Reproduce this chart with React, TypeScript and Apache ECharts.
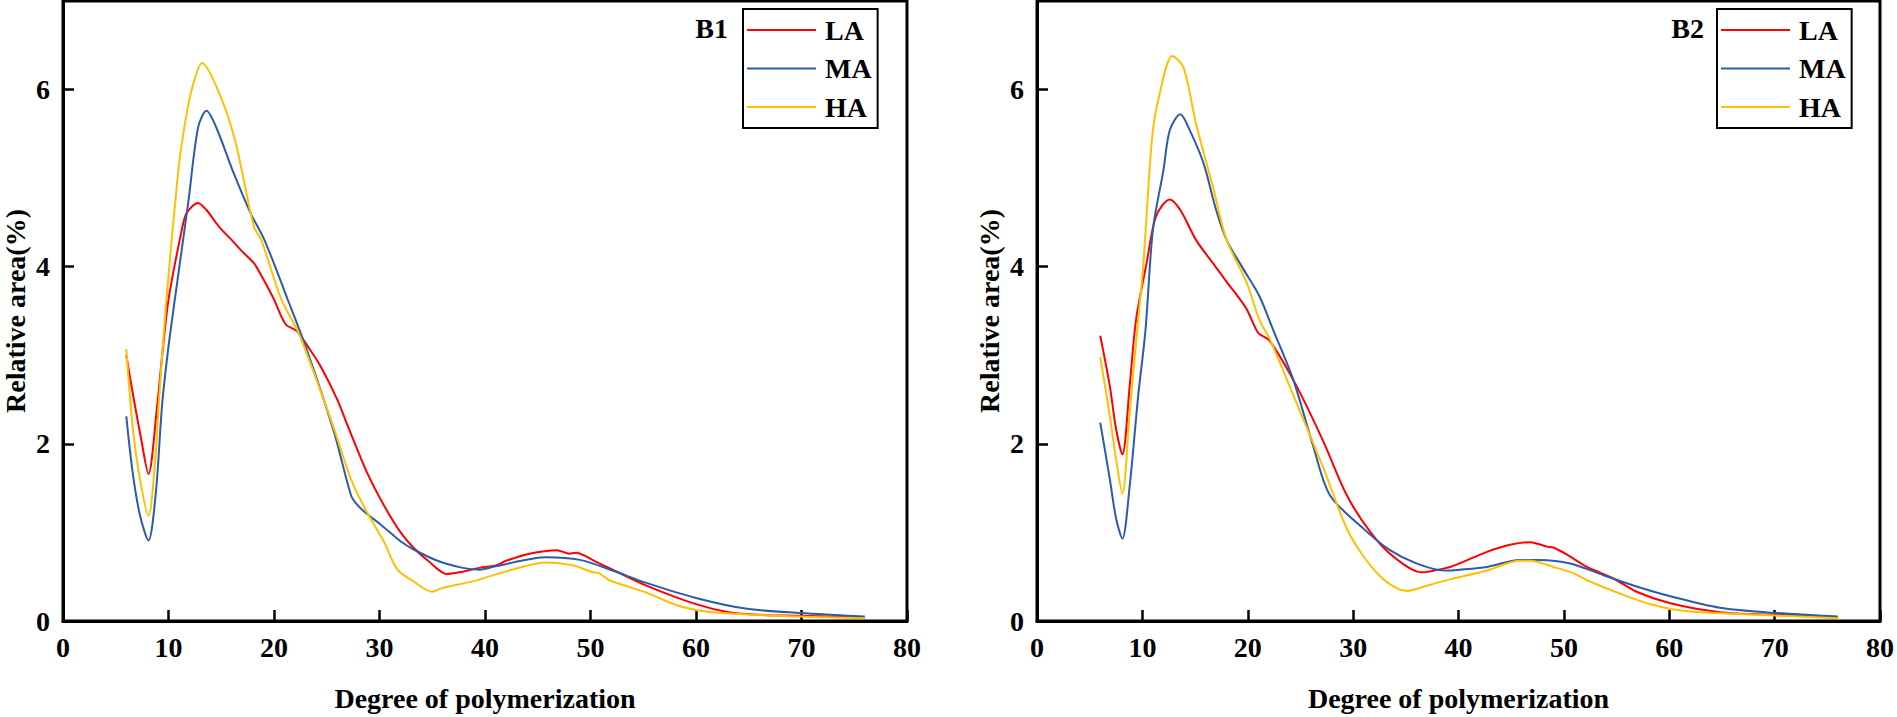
import React, { useEffect, useRef } from "react";
import * as echarts from "echarts";

const SERIES_NAMES = ["LA", "MA", "HA"];
const SERIES_COLORS = ["#FF0000", "#2B5CA8", "#FFC000"];
const PANEL_LABELS = ["B1", "B2"];
const X_AXIS_NAME = "Degree of polymerization";
const Y_AXIS_NAME = "Relative area(%)";

// Panel B1 — [degree of polymerization, relative area %]
const B1_LA: [number, number][] = [
  [6, 3.0], [6.6, 2.58], [7.4, 2.06], [8.1, 1.66], [8.9, 2.4], [9.4, 3.0], [10, 3.63], [11.2, 4.38],
  [11.7, 4.6], [12.8, 4.72], [13.6, 4.64], [14.8, 4.45], [16, 4.3], [17, 4.17], [18.1, 4.04],
  [18.8, 3.9], [20, 3.63], [21.1, 3.35], [22.2, 3.27], [23.2, 3.1], [24.4, 2.88], [26, 2.5],
  [27, 2.2], [28.8, 1.68], [30.4, 1.31], [32, 1.0], [33.2, 0.83], [34.6, 0.68], [36.4, 0.53],
  [37.6, 0.55], [39.5, 0.6], [41.1, 0.63], [42, 0.68], [44.2, 0.76], [46.8, 0.8], [48, 0.76],
  [48.6, 0.77], [50.5, 0.67], [52.1, 0.58], [55.3, 0.4], [60, 0.19], [63.1, 0.1], [66, 0.07],
  [69.9, 0.06], [76, 0.04],
];
const B1_MA: [number, number][] = [
  [6, 2.31], [6.6, 1.68], [7.3, 1.19], [8.1, 0.91], [8.8, 1.45], [9.4, 2.45], [10, 3.1],
  [10.6, 3.63], [11.9, 4.75], [12.8, 5.57], [13.6, 5.76], [14.5, 5.58], [16.2, 5.05], [17.8, 4.6],
  [19.1, 4.3], [21.3, 3.63], [23.2, 3.03], [25.7, 2.13], [27.3, 1.42], [27.9, 1.31], [28.8, 1.21],
  [30.1, 1.09], [32, 0.9], [33.2, 0.81], [35.5, 0.68], [37.9, 0.6], [39.5, 0.58], [41.1, 0.62],
  [45.8, 0.72], [49, 0.69], [52.1, 0.57], [55.3, 0.43], [60, 0.26], [64.7, 0.14], [69.9, 0.09],
  [76, 0.05],
];
const B1_HA: [number, number][] = [
  [6, 3.07], [6.6, 2.2], [7.3, 1.6], [8.1, 1.19], [8.8, 1.9], [9.1, 2.5], [9.8, 3.63],
  [10.9, 5.05], [11.4, 5.5], [12.2, 6.0], [13.2, 6.3], [14.7, 5.99], [16.3, 5.43], [18.1, 4.45],
  [18.8, 4.3], [20.7, 3.63], [22.3, 3.26], [24.1, 2.7], [25.7, 2.17], [27.3, 1.6], [28.8, 1.23],
  [30.4, 0.9], [31.7, 0.58], [33.2, 0.45], [35, 0.33], [35.9, 0.37], [38.9, 0.45], [42.6, 0.58],
  [45.8, 0.66], [48.3, 0.63], [50.2, 0.55], [50.8, 0.54], [51.8, 0.46], [55.3, 0.32], [58.4, 0.17],
  [61.5, 0.1], [69.9, 0.05], [76, 0.03],
];

// Panel B2
const B2_LA: [number, number][] = [
  [6, 3.22], [6.9, 2.66], [7.5, 2.17], [8.1, 1.88], [8.8, 2.66], [9.4, 3.4], [10.4, 4.04],
  [11.3, 4.57], [12.6, 4.76], [13.6, 4.64], [15.1, 4.3], [16.7, 4.04], [18.3, 3.78], [18.9, 3.69],
  [19.9, 3.52], [20.8, 3.29], [21.1, 3.24], [22.1, 3.16], [24.6, 2.66], [27.2, 2.02], [29.4, 1.42],
  [31.6, 1.01], [33.8, 0.73], [36.5, 0.55], [39.2, 0.61], [40.1, 0.65], [42.7, 0.78], [44.9, 0.86],
  [46.8, 0.89], [48.4, 0.84], [49, 0.83], [50.3, 0.75], [52.2, 0.61], [54.7, 0.48], [56.9, 0.33],
  [60.1, 0.2], [64.8, 0.1], [70.2, 0.07], [76, 0.04],
];
const B2_MA: [number, number][] = [
  [6, 2.24], [6.9, 1.61], [7.5, 1.16], [8.1, 0.93], [8.8, 1.53], [9.6, 2.54], [10.3, 3.29],
  [11, 4.42], [12, 5.09], [12.6, 5.54], [13.6, 5.72], [14.5, 5.54], [15.8, 5.17], [17, 4.64],
  [18, 4.3], [19.6, 3.97], [21.1, 3.67], [22.4, 3.29], [24.3, 2.73], [26.2, 1.98], [27.8, 1.42],
  [31, 1.04], [33.5, 0.8], [36, 0.65], [38.6, 0.57], [40.1, 0.58], [42.7, 0.61], [45.8, 0.69],
  [47.7, 0.69], [50.6, 0.65], [53.7, 0.52], [56.9, 0.39], [60.1, 0.28], [64.8, 0.15], [70.2, 0.09],
  [76, 0.05],
];
const B2_HA: [number, number][] = [
  [6, 2.98], [6.9, 2.32], [7.5, 1.83], [8.1, 1.44], [8.8, 2.36], [9.6, 3.4], [10.1, 4.04],
  [10.9, 5.43], [11.5, 5.88], [12.85, 6.38], [13.9, 6.25], [15.1, 5.61], [16.7, 4.9], [18, 4.3],
  [19.9, 3.82], [21.1, 3.4], [22.1, 3.18], [24.6, 2.47], [27.2, 1.72], [29.7, 0.97], [32.6, 0.5],
  [35.1, 0.34], [37.3, 0.41], [39.2, 0.47], [42.7, 0.57], [45.8, 0.68], [46.8, 0.68], [49, 0.61],
  [50.9, 0.54], [52.2, 0.46], [55.3, 0.31], [58.5, 0.18], [61.7, 0.11], [68.5, 0.07], [76, 0.03],
];

const PANELS = [
  [B1_LA, B1_MA, B1_HA],
  [B2_LA, B2_MA, B2_HA],
];

const FONT = "'Times New Roman', 'Liberation Serif', serif";
const GRID_LEFTS = [61, 1037];
const LEGEND_LEFTS = [743, 1717];
const LABEL_RIGHTS = [728, 1704];

export default function App() {
  const ref = useRef<HTMLDivElement>(null);

  useEffect(() => {
    if (!ref.current) return;
    const chart = echarts.init(ref.current, undefined, { renderer: "svg" });
    const textBase = { fontFamily: FONT, fontWeight: "bold" as const, color: "#000", fontSize: 28 };

    const grid = GRID_LEFTS.map((left) => ({
      left,
      top: 1,
      width: 846,
      height: 622,
      show: true,
      borderColor: "#000",
      borderWidth: 3,
      backgroundColor: "transparent",
    }));

    const xAxis = PANELS.map((_, i) => ({
      type: "value",
      gridIndex: i,
      min: 0,
      max: 80,
      interval: 10,
      axisLine: { show: true, onZero: false, lineStyle: { color: "#000", width: 3 } },
      axisTick: { show: true, inside: true, length: 11, lineStyle: { color: "#000", width: 2.5 } },
      axisLabel: { ...textBase, margin: 12 },
      splitLine: { show: false },
      name: X_AXIS_NAME,
      nameLocation: "middle",
      nameGap: 63,
      nameTextStyle: { ...textBase },
    }));

    const yAxis = PANELS.map((_, i) => ({
      type: "value",
      gridIndex: i,
      min: 0,
      max: 7,
      interval: 2,
      axisLine: { show: true, onZero: false, lineStyle: { color: "#000", width: 3 } },
      axisTick: { show: true, inside: true, length: 11, lineStyle: { color: "#000", width: 2.5 } },
      axisLabel: { ...textBase, margin: 13, showMaxLabel: false },
      splitLine: { show: false },
      name: Y_AXIS_NAME,
      nameLocation: "middle",
      nameGap: 34,
      nameTextStyle: { ...textBase },
    }));

    const legend = LEGEND_LEFTS.map((left) => ({
      left,
      top: 9,
      orient: "vertical",
      data: SERIES_NAMES,
      icon: "rect",
      itemWidth: 69,
      itemHeight: 2,
      itemGap: 10.5,
      padding: [7, 6, 7, 4],
      borderColor: "#000",
      borderWidth: 2,
      backgroundColor: "#fff",
      textStyle: { ...textBase, padding: [0, 0, 0, 4] },
    }));

    const series: any[] = [];
    PANELS.forEach((panel, i) => {
      panel.forEach((data, k) => {
        series.push({
          type: "line",
          name: SERIES_NAMES[k],
          xAxisIndex: i,
          yAxisIndex: i,
          data,
          symbol: "none",
          smooth: 0.3,
          lineStyle: { width: 2, color: SERIES_COLORS[k] },
          itemStyle: { color: SERIES_COLORS[k] },
        });
      });
    });

    const graphic = PANEL_LABELS.map((label, i) => ({
      type: "text",
      x: LABEL_RIGHTS[i],
      y: 28,
      style: {
        text: label,
        font: `bold 28px ${FONT}`,
        fill: "#000",
        textAlign: "right",
        textVerticalAlign: "middle",
      },
    }));

    chart.setOption({
      animation: false,
      backgroundColor: "#fff",
      grid,
      xAxis,
      yAxis,
      legend,
      series,
      graphic,
    });

    return () => chart.dispose();
  }, []);

  return (
    <div
      ref={ref}
      style={{ position: "absolute", left: 0, top: 0, width: 1897, height: 717 }}
    />
  );
}
